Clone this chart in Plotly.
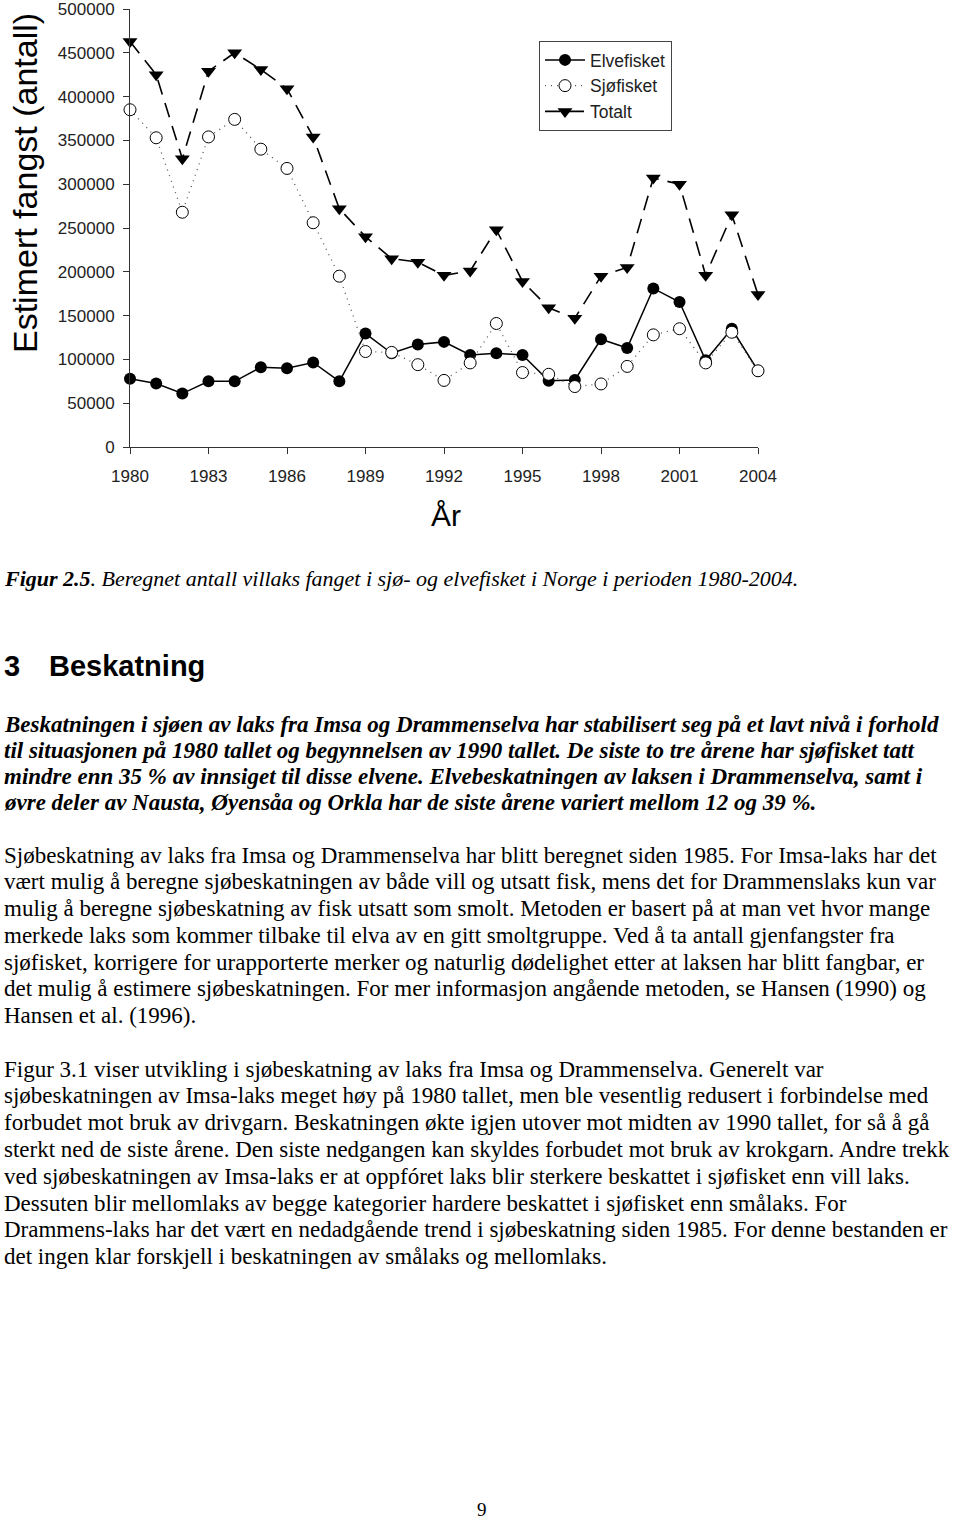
import plotly.graph_objects as go

years = list(range(1980, 2005))
elvefisket = [78000, 72500, 61000, 75000, 75000, 91000, 90000, 96500, 75000, 129500,
              107000, 117000, 120000, 105000, 107000, 105000, 75500, 76500, 123000, 113000,
              181000, 165500, 99000, 135000, 87000]
sjofisket = [385000, 353000, 268000, 354000, 374000, 340000, 318000, 256000, 195000, 109000,
             108000, 94000, 76000, 96000, 141000, 85000, 83000, 69000, 72000, 92000,
             128000, 135000, 96000, 131000, 87000]
totalt = [463000, 425000, 329000, 429000, 450000, 431000, 409000, 354000, 272000, 240000,
          215000, 211000, 196000, 201000, 248000, 189000, 159000, 147000, 195000, 205000,
          307000, 300000, 196000, 265000, 174000]

# page geometry of the plot area (pixels)
L, R, T, B = 130, 758, 9, 447
W, H = 960, 1523


def px(x):
    return (x - L) / (R - L)


def py(y):
    return (B - y) / (B - T)


fig = go.Figure()
fig.add_trace(go.Scatter(
    x=years, y=elvefisket, name='Elvefisket', mode='lines+markers',
    line=dict(color='black', width=1.5),
    marker=dict(symbol='circle', size=12, color='black'),
    cliponaxis=False
))
fig.add_trace(go.Scatter(
    x=years, y=sjofisket, name='Sjøfisket', mode='lines+markers',
    line=dict(color='#555555', width=1.3, dash='1px,5px'),
    marker=dict(symbol='circle', size=12, color='white', line=dict(color='black', width=1)),
    cliponaxis=False
))
fig.add_trace(go.Scatter(
    x=years, y=totalt, name='Totalt', mode='lines+markers',
    line=dict(color='black', width=1.6, dash='15px,9px'),
    marker=dict(symbol='triangle-down', size=13, color='black'),
    cliponaxis=False
))

serif = 'Liberation Serif, Times New Roman, serif'
sans = 'Liberation Sans, Arial, sans-serif'

notes = []


def text(x, y, s, size, family=serif, anchor='left', angle=0):
    notes.append(dict(
        x=px(x), y=py(y), xref='paper', yref='paper', text=s, showarrow=False,
        xanchor=anchor, yanchor='middle', textangle=angle,
        font=dict(family=family, size=size, color='black')
    ))


text(25, 183, 'Estimert fangst (antall)', 34, sans, 'center', -90)
text(446, 515, 'År', 30, 'Liberation Sans Narrow, Arial Narrow, ' + sans, 'center')
text(2, 578, '<b><i>Figur 2.5</i></b><i>. Beregnet antall villaks fanget i sjø- og elvefisket '
     'i Norge i perioden 1980-2004.</i>', 22)
text(2, 666, '<b>3</b>', 29, sans)
text(47, 666, '<b>Beskatning</b>', 29, sans)

para1 = [
    'Beskatningen i sjøen av laks fra Imsa og Drammenselva har stabilisert seg på et lavt nivå i forhold',
    'til situasjonen på 1980 tallet og begynnelsen av 1990 tallet. De siste to tre årene har sjøfisket tatt',
    'mindre enn 35 % av innsiget til disse elvene. Elvebeskatningen av laksen i Drammenselva, samt i',
    'øvre deler av Nausta, Øyensåa og Orkla har de siste årene variert mellom 12 og 39 %.',
]
para2 = [
    'Sjøbeskatning av laks fra Imsa og Drammenselva har blitt beregnet siden 1985. For Imsa-laks har det',
    'vært mulig å beregne sjøbeskatningen av både vill og utsatt fisk, mens det for Drammenslaks kun var',
    'mulig å beregne sjøbeskatning av fisk utsatt som smolt. Metoden er basert på at man vet hvor mange',
    'merkede laks som kommer tilbake til elva av en gitt smoltgruppe. Ved å ta antall gjenfangster fra',
    'sjøfisket, korrigere for urapporterte merker og naturlig dødelighet etter at laksen har blitt fangbar, er',
    'det mulig å estimere sjøbeskatningen. For mer informasjon angående metoden, se Hansen (1990) og',
    'Hansen et al. (1996).',
]
para3 = [
    'Figur 3.1 viser utvikling i sjøbeskatning av laks fra Imsa og Drammenselva. Generelt var',
    'sjøbeskatningen av Imsa-laks meget høy på 1980 tallet, men ble vesentlig redusert i forbindelse med',
    'forbudet mot bruk av drivgarn. Beskatningen økte igjen utover mot midten av 1990 tallet, for så å gå',
    'sterkt ned de siste årene. Den siste nedgangen kan skyldes forbudet mot bruk av krokgarn. Andre trekk',
    'ved sjøbeskatningen av Imsa-laks er at oppfóret laks blir sterkere beskattet i sjøfisket enn vill laks.',
    'Dessuten blir mellomlaks av begge kategorier hardere beskattet i sjøfisket enn smålaks. For',
    'Drammens-laks har det vært en nedadgående trend i sjøbeskatning siden 1985. For denne bestanden er',
    'det ingen klar forskjell i beskatningen av smålaks og mellomlaks.',
]

for i, line in enumerate(para1):
    text(2, 724 + i * 26.3, '<b><i>' + line + '</i></b>', 23)
for i, line in enumerate(para2):
    text(2, 855 + i * 26.8, line, 23)
for i, line in enumerate(para3):
    text(2, 1069 + i * 26.8, line, 23)
text(482, 1509, '9', 19, serif, 'center')

axis_font = dict(family=sans, size=17, color='#222222')
fig.update_layout(
    template='none',
    width=W, height=H,
    margin=dict(l=L, r=W - R, t=T, b=H - B, autoexpand=False),
    paper_bgcolor='white', plot_bgcolor='white',
    showlegend=True,
    legend=dict(
        x=px(539), y=py(41), xanchor='left', yanchor='top',
        bordercolor='#444444', borderwidth=1, bgcolor='white',
        font=dict(family=sans, size=17.5, color='#222222'),
        itemwidth=40, tracegroupgap=0
    ),
    xaxis=dict(
        range=[1980, 2004], tickmode='linear', tick0=1980, dtick=3,
        showline=True, linecolor='#333333', linewidth=1, automargin=False,
        ticks='outside', ticklen=6, tickcolor='#333333',
        showgrid=False, zeroline=False, tickfont=axis_font, ticklabelstandoff=8
    ),
    yaxis=dict(
        range=[0, 500000], tickmode='linear', tick0=0, dtick=50000,
        showline=True, linecolor='#333333', linewidth=1, automargin=False,
        ticks='outside', ticklen=6, tickcolor='#333333',
        showgrid=False, zeroline=False, tickfont=axis_font, ticklabelstandoff=5,
        tickformat='d', ticklabeloverflow='allow'
    ),
    annotations=notes
)

fig.write_html("out.html", config={'displayModeBar': False},
               post_script="document.body.style.margin='0';")
